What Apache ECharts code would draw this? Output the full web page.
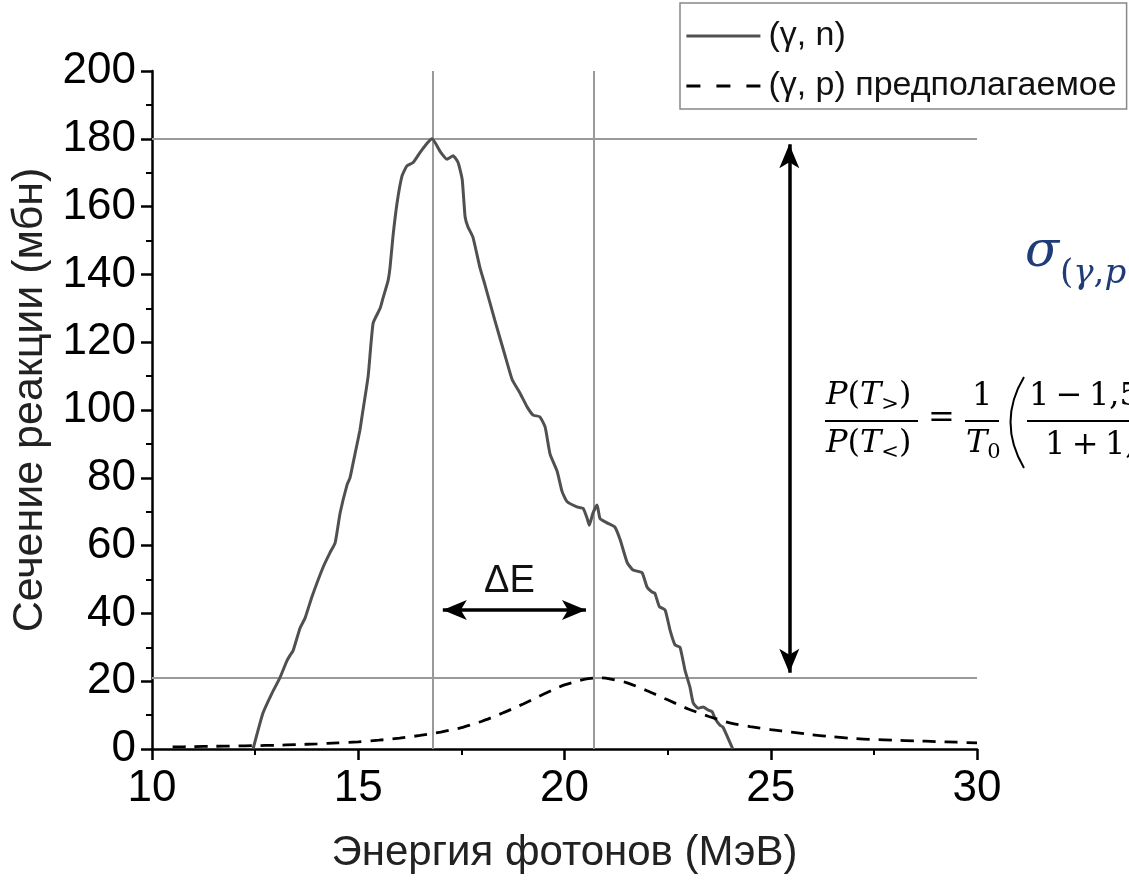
<!DOCTYPE html>
<html>
<head>
<meta charset="utf-8">
<script src="https://cdn.jsdelivr.net/npm/echarts@6.0.0/dist/echarts.min.js"></script>
<style>
  html, body { margin: 0; padding: 0; background: #fff; }
  #chart { width: 1129px; height: 880px; }
</style>
</head>
<body>
<div id="chart"></div>
<script>
// (γ, n) — измеренное сечение
var energyN = [12.45, 12.69, 12.91, 13.1, 13.27, 13.35, 13.42, 13.59, 13.71, 13.88, 14.15, 14.31, 14.44, 14.56,
    14.73, 14.8, 14.92, 15.04, 15.09, 15.24, 15.36, 15.53, 15.6, 15.72, 15.77, 15.84, 15.94, 16.06, 16.18, 16.33,
    16.5, 16.67, 16.79, 17.0, 17.15, 17.3, 17.42, 17.52, 17.59, 17.66, 17.78, 17.95, 18.07, 18.31, 18.56, 18.73,
    18.92, 19.09, 19.24, 19.4, 19.53, 19.65, 19.82, 19.94, 20.06, 20.3, 20.45, 20.55, 20.6, 20.69, 20.79, 20.86,
    21.03, 21.22, 21.35, 21.52, 21.66, 21.88, 22.0, 22.12, 22.19, 22.3, 22.44, 22.56, 22.68, 22.8, 22.92, 23.04,
    23.12, 23.24, 23.36, 23.48, 23.58, 23.65, 23.77, 23.84, 24.08];
var sigmaN = [0, 10.6, 16.5, 21, 26, 27.7, 29, 35.7, 38.6, 45, 53.7, 57.8, 60.8, 69.6,
    78, 80, 87, 94, 98, 110, 125.6, 130, 133, 138, 142, 151, 161, 169, 172, 173,
    176, 178.7, 180, 176, 174, 175, 173, 168, 157, 154, 151, 142, 137, 126.5, 116, 109,
    105, 101, 98.5, 98, 95, 87, 82, 76, 73, 71.4, 71, 68, 66, 69.6, 72, 68,
    66.7, 65.5, 61.7, 55, 52.8, 52, 47.8, 46.3, 46, 42, 41, 35, 30.7, 30, 23.3, 18.3,
    13.6, 12, 12.4, 11.5, 11, 9, 7, 6.5, 0];

// (γ, p) — предполагаемое сечение
var energyP = [10.5, 11, 11.5, 12, 12.5, 13, 13.5, 14, 14.5, 15, 15.5, 16, 16.5, 17, 17.5, 18, 18.5, 19, 19.5,
    20, 20.5, 20.8, 21, 21.5, 22, 22.5, 23, 23.5, 24, 24.5, 25, 25.5, 26, 26.5, 27, 27.5, 28, 28.5, 29, 29.5, 30];
var sigmaP = [0.6, 0.7, 0.8, 0.9, 1.0, 1.1, 1.3, 1.5, 1.8, 2.1, 2.6, 3.2, 4.0, 5.0, 6.3, 8.2, 10.6, 13.3, 16.2,
    18.9, 20.6, 21.0, 20.9, 19.6, 17.2, 14.5, 11.8, 9.6, 7.7, 6.6, 5.7, 5.0, 4.2, 3.6, 3.1, 2.8, 2.6, 2.4, 2.2, 2.0, 1.8];

// положения максимумов
var peakEnergies = [16.8, 20.7];
var peakLevels = [180, 21];

// стрелки: ΔE (от, до, уровень) и отношение сечений (энергия, от, до)
var deltaEArrow = [17.05, 20.52, 41];
var ratioArrow = [25.45, 178.4, 22.5];

var seriesNames = ['(γ, n)', '(γ, p) предполагаемое'];

function zip(xs, ys) {
    var out = [];
    for (var i = 0; i < xs.length; i++) out.push([xs[i], ys[i]]);
    return out;
}

var sans = 'Arial, "Liberation Sans", sans-serif';
var serif = '"DejaVu Serif", "Liberation Serif", serif';
var gray = '#9a9a9a';
var navy = '#1f3b78';
var thin = '\u2009';

var myChart = echarts.init(document.getElementById('chart'));

var refLine = { color: gray, width: 2, type: 'solid' };
var arrowLine = { color: '#000', width: 3.5, type: 'solid' };

function fracRich(size) {
    return {
        r: { font: size + 'px ' + serif, fill: '#000', lineHeight: 38 },
        i: { font: 'italic ' + size + 'px ' + serif, fill: '#000', lineHeight: 38 },
        s: { font: '21px ' + serif, fill: '#000', verticalAlign: 'bottom', lineHeight: 38 }
    };
}

var option = {
    animation: false,
    backgroundColor: '#fff',
    grid: { left: 152, right: 152, top: 71, bottom: 131, outerBoundsMode: 'none' },
    legend: {
        orient: 'vertical',
        left: 680,
        top: 3,
        padding: [16, 10, 6, 5],
        itemGap: 16,
        itemWidth: 74,
        itemHeight: 32,
        borderColor: '#888',
        borderWidth: 1.5,
        borderRadius: 0,
        itemStyle: { opacity: 0 },
        lineStyle: { width: 2.8 },
        textStyle: { fontFamily: sans, fontSize: 34, color: '#111', padding: [0, 0, 0, 3] },
        data: [
            { name: seriesNames[0] },
            { name: seriesNames[1], lineStyle: { type: [14, 16] } }
        ]
    },
    xAxis: {
        type: 'value',
        min: 10, max: 30, interval: 5,
        name: 'Энергия фотонов (МэВ)',
        nameLocation: 'middle',
        nameGap: 83,
        nameTextStyle: { fontFamily: sans, fontSize: 42, color: '#222' },
        axisLine: { lineStyle: { color: '#000', width: 2.5 } },
        axisTick: { inside: false, length: 11, lineStyle: { color: '#000', width: 2.5 } },
        minorTick: { show: true, splitNumber: 2, length: 6, lineStyle: { color: '#000', width: 2 } },
        axisLabel: { fontFamily: sans, fontSize: 44, color: '#000', margin: 18 },
        splitLine: { show: false }
    },
    yAxis: {
        type: 'value',
        min: 0, max: 200, interval: 20,
        name: 'Сечение реакции (мбн)',
        nameLocation: 'middle',
        nameGap: 88,
        nameTextStyle: { fontFamily: sans, fontSize: 43, color: '#222', padding: [0, 0, 0, 20] },
        axisLine: { show: true, lineStyle: { color: '#000', width: 2.5 } },
        axisTick: { show: true, inside: false, length: 11, lineStyle: { color: '#000', width: 2.5 } },
        minorTick: { show: true, splitNumber: 2, length: 6, lineStyle: { color: '#000', width: 2 } },
        axisLabel: { fontFamily: sans, fontSize: 44, color: '#000', margin: 16 },
        splitLine: { show: false }
    },
    series: [
        {
            name: seriesNames[0],
            type: 'line',
            data: zip(energyN, sigmaN),
            symbol: 'none',
            smooth: 0.15,
            lineStyle: { color: '#505050', width: 3 },
            itemStyle: { color: '#505050' },
            z: 3,
            markLine: {
                silent: true,
                symbol: 'none',
                label: { show: false },
                z: 1,
                data: [
                    { xAxis: peakEnergies[0], lineStyle: refLine },
                    { xAxis: peakEnergies[1], lineStyle: refLine },
                    { yAxis: peakLevels[0], lineStyle: refLine },
                    { yAxis: peakLevels[1], lineStyle: refLine }
                ]
            }
        },
        {
            name: seriesNames[1],
            type: 'line',
            data: zip(energyP, sigmaP),
            symbol: 'none',
            smooth: 0.2,
            lineStyle: { color: '#000', width: 2.8, type: [13, 9] },
            itemStyle: { color: '#000' },
            z: 4,
            markLine: {
                silent: true,
                symbol: ['arrow', 'arrow'],
                symbolSize: [15, 24],
                z: 5,
                data: [
                    [
                        { coord: [deltaEArrow[0], deltaEArrow[2]], lineStyle: arrowLine, itemStyle: { color: '#000' },
                          label: { show: true, position: 'middle', formatter: 'ΔE', distance: 9,
                                   fontFamily: sans, fontSize: 38, color: '#111', offset: [-5, 0] } },
                        { coord: [deltaEArrow[1], deltaEArrow[2]] }
                    ],
                    [
                        { coord: [ratioArrow[0], ratioArrow[1]], lineStyle: arrowLine, itemStyle: { color: '#000' },
                          label: { show: false } },
                        { coord: [ratioArrow[0], ratioArrow[2]] }
                    ]
                ]
            }
        }
    ],
    graphic: [
        // σ(γ,p
        { type: 'text', left: 1025, top: 228, style: { text: 'σ', font: 'italic 50px ' + serif, fill: navy } },
        { type: 'text', left: 1060, top: 257, style: {
            text: '{r|(}{i|γ}{r|,}{i|p}',
            rich: {
                r: { font: '34px ' + serif, fill: navy },
                i: { font: 'italic 34px ' + serif, fill: navy }
            }
        } },
        // P(T>)/P(T<)
        { type: 'text', left: 826, top: 380, style: { text: '{i|P}{r|(}{i|T}{s|>}{r|)}', rich: fracRich(32) } },
        { type: 'line', shape: { x1: 825, y1: 421, x2: 918, y2: 421 }, style: { stroke: '#000', lineWidth: 1.8 } },
        { type: 'text', left: 826, top: 428, style: { text: '{i|P}{r|(}{i|T}{s|<}{r|)}', rich: fracRich(32) } },
        { type: 'text', left: 928, top: 403, style: { text: '=', font: '32px ' + serif, fill: '#000' } },
        // 1/T0
        { type: 'text', left: 972, top: 381, style: { text: '1', font: '32px ' + serif, fill: '#000' } },
        { type: 'line', shape: { x1: 965, y1: 421, x2: 999, y2: 421 }, style: { stroke: '#000', lineWidth: 1.8 } },
        { type: 'text', left: 966, top: 428, style: { text: '{i|T}{s|0}', rich: fracRich(32) } },
        // большая скобка
        { type: 'bezierCurve', shape: { x1: 1024, y1: 377, cpx1: 997, cpy1: 422, x2: 1024, y2: 468 },
          style: { stroke: '#000', lineWidth: 2, fill: null } },
        { type: 'text', left: 1029, top: 381, style: { text: '1' + thin + '−' + thin + '1,5', font: '32px ' + serif, fill: '#000' } },
        { type: 'line', shape: { x1: 1027, y1: 421, x2: 1129, y2: 421 }, style: { stroke: '#000', lineWidth: 1.8 } },
        { type: 'text', left: 1045, top: 430, style: { text: '1' + thin + '+' + thin + '1,', font: '32px ' + serif, fill: '#000' } }
    ]
};

if (option && typeof option === 'object') {
    myChart.setOption(option);
}
</script>
</body>
</html>
